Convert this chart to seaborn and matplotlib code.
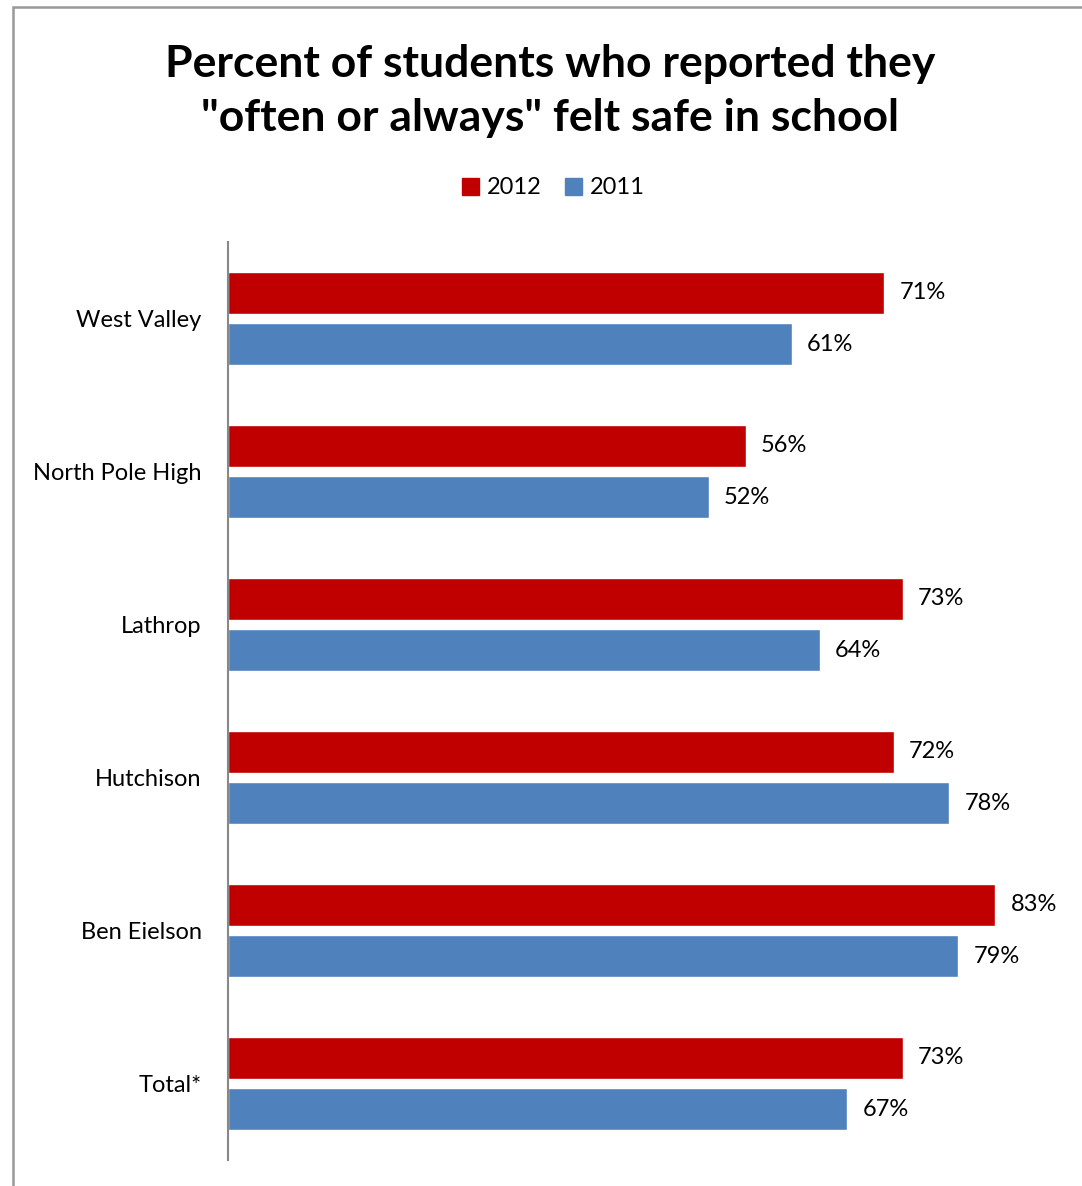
import pandas as pd
import matplotlib.pyplot as plt
import matplotlib.patches as mpatches
import seaborn as sns

# Dane
schools = ["West Valley", "North Pole High", "Lathrop", "Hutchison", "Ben Eielson", "Total*"]
pct_2012 = [71, 56, 73, 72, 83, 73]
pct_2011 = [61, 52, 64, 78, 79, 67]
years = ["2012", "2011"]

df = pd.DataFrame({
    "school": schools * 2,
    "year": ["2012"] * len(schools) + ["2011"] * len(schools),
    "pct": pct_2012 + pct_2011,
})

sns.set_style("white")
plt.rcParams["font.family"] = ["Lato", "DejaVu Sans"]
plt.rcParams["text.color"] = "black"
plt.rcParams["ytick.color"] = "black"

W, H = 1082, 1186
fig = plt.figure(figsize=(W / 100, H / 100), dpi=100)
ax = fig.add_axes([228 / W, 1 - 1160 / H, (1060 - 228) / W, (1160 - 242) / H])

palette = {"2012": "#C00000", "2011": "#4F81BD"}
sns.barplot(data=df, x="pct", y="school", hue="year", hue_order=years,
            order=schools, palette=palette, width=0.667, gap=0.18,
            saturation=1, orient="h", ax=ax, legend=False)

ax.set_xlim(0, 90)
ax.set_ylim(5.5, -0.5)
ax.set_xlabel("")
ax.set_ylabel("")
ax.set_xticks([])
ax.tick_params(axis="y", length=0, pad=19, labelsize=17)
for s in ["top", "right", "bottom"]:
    ax.spines[s].set_visible(False)
ax.spines["left"].set_color("#888888")
ax.spines["left"].set_linewidth(1.5)

# Etykiety wartości
for cont in ax.containers:
    ax.bar_label(cont, labels=[f"{v:.0f}%" for v in cont.datavalues],
                 padding=11, fontsize=17)

# Tytuł
fig.text(550 / W, 1 - 91 / H,
         'Percent of students who reported they\n"often or always" felt safe in school',
         ha="center", va="center", fontsize=32, fontweight="bold", linespacing=1.45)

# Legenda
handles = [mpatches.Patch(color=palette[y], label=y) for y in years]
fig.legend(handles=handles, loc="center", bbox_to_anchor=(553 / W, 1 - 188 / H),
           ncol=2, frameon=False, fontsize=17, handlelength=0.75, handleheight=0.75,
           handletextpad=0.3, columnspacing=1.0)

# Ramka wykresu
fig.patches.append(mpatches.Rectangle((13 / W, -0.1), 1.2, 1.1 - 7 / H,
                                      transform=fig.transFigure, fill=False,
                                      edgecolor="#999999", linewidth=1.8))

fig.savefig("out.png", dpi=100)
